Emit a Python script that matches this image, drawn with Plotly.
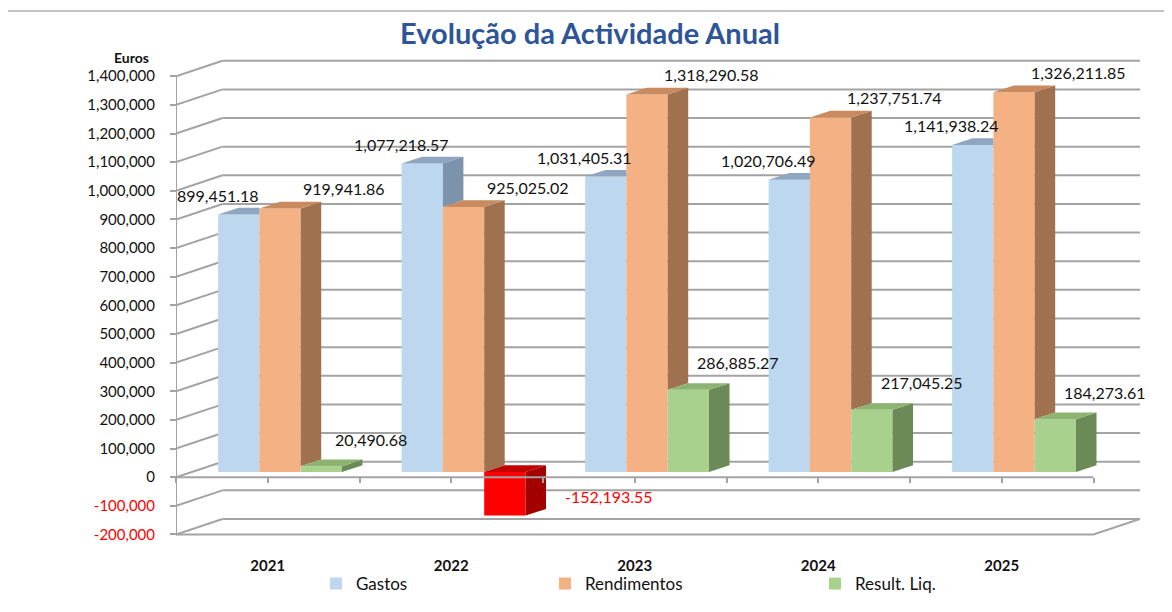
import plotly.graph_objects as go

# ---------------- data ----------------
years = ["2021", "2022", "2023", "2024", "2025"]
gastos = [899451.18, 1077218.57, 1031405.31, 1020706.49, 1141938.24]
rendimentos = [919941.86, 925025.02, 1318290.58, 1237751.74, 1326211.85]
result_liq = [20490.68, -152193.55, 286885.27, 217045.25, 184273.61]
series_names = ["Gastos", "Rendimentos", "Result. Liq."]
y_tick_values = list(range(-200000, 1400001, 100000))
y_tick_labels = [f"{v:,}" for v in y_tick_values]

# ---------------- geometry / style constants (screen pixels) ----------------
W, H = 1172, 612
PAGE_OFF = 8                       # default page margin of the html body
P_LEFT, P_RIGHT, P_TOP, P_BOTTOM = 176, 1140, 56, 540
M_L, M_T = P_LEFT - PAGE_OFF, P_TOP - PAGE_OFF
M_R, M_B = W - (P_RIGHT - PAGE_OFF), H - (P_BOTTOM - PAGE_OFF)
PLOT_W = P_RIGHT - P_LEFT
PLOT_H = P_BOTTOM - P_TOP
PX_PER_CAT = 183.5
PX_PER_EUR = 28.64 / 100000
FRONT_ZERO_PX = 477.2
BAR_SHIFT_PX = (12.3, 5.2)     # bar front plane vs front axis plane (right, up)
WALL_SHIFT_PX = (46.5, 15.5)   # back wall vs front axis plane (right, up)
DEPTH_PX = (20.5, 6.7)         # visible bar depth (right, up)
BAR_W_PX = 41.3
FONT = "Lato"
GRID = "#A3A3A3"

series_vals = [gastos, rendimentos, result_liq]
front_col = [("#BDD7EE", "#BDD7EE"), ("#F4B183", "#F4B183"), ("#A9D18E", "#FF0000")]
side_col = [("#7C93AC", "#7C93AC"), ("#A0714F", "#A0714F"), ("#6B8A57", "#A30000")]
top_col = [("#8FA6C0", "#8FA6C0"), ("#C88A5E", "#C88A5E"), ("#8DB370", "#C20000")]
# label offsets in px (right, up) for positive / negative values
label_shift = [((-21, 19), (-21, 19)), ((64, 20), (64, 20)), ((50, 27), (104, 19))]

n = len(years)
x_idx = list(range(n))

x2_range = [-0.5, -0.5 + PLOT_W / PX_PER_CAT]
y2_range = [(FRONT_ZERO_PX - P_BOTTOM) / PX_PER_EUR, (FRONT_ZERO_PX - P_TOP) / PX_PER_EUR]
x_range = [r - BAR_SHIFT_PX[0] / PX_PER_CAT for r in x2_range]
y_range = [r - BAR_SHIFT_PX[1] / PX_PER_EUR for r in y2_range]

dx = DEPTH_PX[0] / PX_PER_CAT
dy = DEPTH_PX[1] / PX_PER_EUR
bw = BAR_W_PX / PX_PER_CAT
offsets = [-1.5 * bw, -0.5 * bw, 0.5 * bw]
wall_dx = WALL_SHIFT_PX[0] / PX_PER_CAT
wall_dy = WALL_SHIFT_PX[1] / PX_PER_EUR


def xp(px):
    return (px - P_LEFT) / PLOT_W


def yp(py):
    return (P_BOTTOM - py) / PLOT_H


fig = go.Figure()

# front faces (real bars)
for s, vals in enumerate(series_vals):
    cols = [front_col[s][0] if v >= 0 else front_col[s][1] for v in vals]
    fig.add_trace(go.Bar(
        x=x_idx, y=vals, width=bw, offset=offsets[s], name=series_names[s],
        marker=dict(color=cols, line=dict(width=0)),
        legend="legend" if s == 0 else f"legend{s + 1}",
        hovertemplate="%{y:,.2f}<extra>" + series_names[s] + "</extra>",
    ))

# side and top faces (3D look) computed from values
polys = {}
for s, vals in enumerate(series_vals):
    nxt_vals = series_vals[s + 1] if s + 1 < len(series_vals) else None
    for i, v in enumerate(vals):
        neg = 1 if v < 0 else 0
        x0 = i + offsets[s]
        x1 = x0 + bw
        top = max(v, 0)
        bot = min(v, 0)
        nxt = nxt_vals[i] if nxt_vals is not None else None
        lo = max(nxt, 0) if (nxt is not None and v > 0) else bot
        if top > lo:
            polys.setdefault(side_col[s][neg], []).append(
                [(x1, lo), (x1, top), (x1 + dx, top + dy), (x1 + dx, lo + dy)])
        if nxt is not None and nxt > v:
            tp = [(x0, top), (x1, top), (x1, top + dy), (x0 + dx, top + dy)]
        else:
            tp = [(x0, top), (x1, top), (x1 + dx, top + dy), (x0 + dx, top + dy)]
        polys.setdefault(top_col[s][neg], []).append(tp)

for col, plist in polys.items():
    xs, ys = [], []
    for p in plist:
        xs += [q[0] for q in p] + [p[0][0], None]
        ys += [q[1] for q in p] + [p[0][1], None]
    fig.add_trace(go.Scatter(x=xs, y=ys, mode="lines", fill="toself", fillcolor=col,
                             line=dict(width=0, color=col), showlegend=False,
                             hoverinfo="skip"))

# empty trace so the front-plane axes exist
fig.add_trace(go.Scatter(x=[], y=[], xaxis="x2", yaxis="y2", showlegend=False,
                         hoverinfo="skip"))

# data labels
for s, vals in enumerate(series_vals):
    for i, v in enumerate(vals):
        neg = 1 if v < 0 else 0
        sx, sy = label_shift[s][neg]
        fig.add_annotation(
            x=i + offsets[s] + bw / 2, y=v, xref="x", yref="y",
            text=f"{v:,.2f}", showarrow=False, xshift=sx, yshift=sy,
            font=dict(family=FONT, size=16, color="#FF0000" if neg else "#111111"),
        )

# grid: left wall diagonals + back wall lines (front-plane coordinates)
shapes = []
x_left = x2_range[0]
x_right = n - 0.5
for v in y_tick_values:
    shapes.append(dict(type="line", xref="x2", yref="y2", layer="below",
                       x0=x_left, y0=v, x1=x_left + wall_dx, y1=v + wall_dy,
                       line=dict(color=GRID, width=2)))
    shapes.append(dict(type="line", xref="x2", yref="y2", layer="below",
                       x0=x_left + wall_dx, y0=v + wall_dy, x1=x_right + wall_dx, y1=v + wall_dy,
                       line=dict(color=GRID, width=2)))
vmin, vmax = y_tick_values[0], y_tick_values[-1]
shapes.append(dict(type="path", xref="x2", yref="y2", layer="below",
                   path=f"M{x_left},{vmin} L{x_right},{vmin} L{x_right + wall_dx},{vmin + wall_dy}",
                   line=dict(color=GRID, width=2)))
# front value axis line
shapes.append(dict(type="line", xref="x2", yref="y2", layer="above",
                   x0=x_left, y0=vmin, x1=x_left, y1=vmax, line=dict(color=GRID, width=2)))
# front category axis line at zero
shapes.append(dict(type="line", xref="x2", yref="y2", layer="above",
                   x0=x_left, y0=0, x1=x_right, y1=0, line=dict(color=GRID, width=2)))
# chart border
shapes.append(dict(type="rect", xref="paper", yref="paper", layer="below",
                   x0=xp(7), y0=yp(650), x1=xp(1200), y1=yp(11),
                   line=dict(color="#B0B0B0", width=1.5), fillcolor="rgba(0,0,0,0)"))

x_tick_vals = [k / 2 - 0.5 for k in range(2 * n + 1)]
x_tick_text = [years[int(t)] if float(t).is_integer() else "" for t in x_tick_vals]
y_tick_text = [f"<span style='color:#FF0000'>{t}</span>" if v < 0 else t
               for v, t in zip(y_tick_values, y_tick_labels)]

legend_style = dict(orientation="h", xanchor="left", yanchor="middle",
                    bgcolor="rgba(0,0,0,0)", font=dict(family=FONT, size=17, color="#111111"))

fig.update_layout(
    width=W, height=H,
    margin=dict(l=M_L, r=M_R, t=M_T, b=M_B, autoexpand=False),
    paper_bgcolor="white", plot_bgcolor="rgba(0,0,0,0)",
    barmode="overlay",
    shapes=shapes,
    title=dict(text="<b>Evolução da Actividade Anual</b>", x=(590 - PAGE_OFF) / W, xref="container",
               xanchor="center", y=1 - (34 - PAGE_OFF) / H, yref="container", yanchor="middle",
               font=dict(family=FONT, size=29, color="#2D5597")),
    xaxis=dict(range=x_range, visible=False, fixedrange=True),
    yaxis=dict(range=y_range, visible=False, fixedrange=True),
    xaxis2=dict(range=x2_range, overlaying="x", anchor="free", position=yp(FRONT_ZERO_PX),
                tickmode="array", tickvals=x_tick_vals, ticktext=x_tick_text,
                ticks="outside", ticklen=5, tickwidth=2, tickcolor=GRID,
                showline=False, showgrid=False, zeroline=False, ticklabelstandoff=70,
                tickfont=dict(family=FONT, size=15, color="#111111", weight="bold")),
    yaxis2=dict(range=y2_range, overlaying="y", anchor="free", position=0, side="left",
                tickmode="array", tickvals=y_tick_values, ticktext=y_tick_text,
                ticks="outside", ticklen=6, tickwidth=2, tickcolor=GRID,
                showline=False, showgrid=False, zeroline=False, ticklabelstandoff=12,
                tickfont=dict(family=FONT, size=15, color="#111111")),
    annotations=list(fig.layout.annotations) + [
        dict(text="<b>Euros</b>", xref="paper", yref="paper", x=xp(131), y=yp(58),
             showarrow=False, xanchor="center", yanchor="middle",
             font=dict(family=FONT, size=14, color="#111111"))],
    legend=dict(legend_style, x=xp(316), y=yp(584)),
    legend2=dict(legend_style, x=xp(545), y=yp(584)),
    legend3=dict(legend_style, x=xp(815), y=yp(584)),
    showlegend=True,
)

fig.write_html("out.html")
